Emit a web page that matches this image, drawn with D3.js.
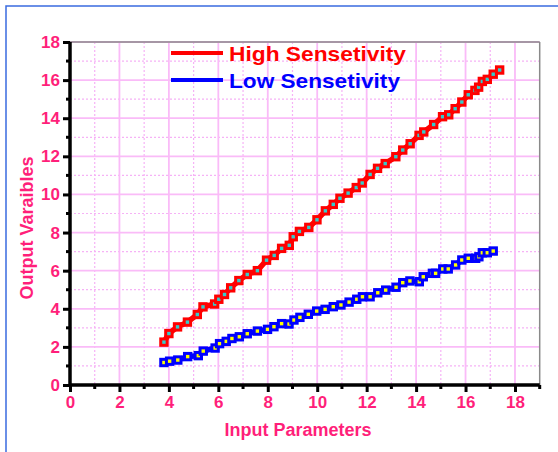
<!DOCTYPE html>
<html><head><meta charset="utf-8">
<script src="https://cdn.jsdelivr.net/npm/d3@7"></script>
<style>html,body{margin:0;padding:0;background:#fff;}svg{display:block;}</style>
</head><body>
<svg id="chart" width="558" height="452"></svg>
<script>
const seriesNames = ["High Sensetivity", "Low Sensetivity"];
const highX = [3.8,4.0,4.35,4.75,5.15,5.38,5.85,6.02,6.25,6.5,6.83,7.17,7.58,7.95,8.26,8.56,8.87,9.03,9.28,9.66,9.99,10.33,10.65,10.92,11.25,11.58,11.82,12.14,12.44,12.75,13.18,13.46,13.76,14.12,14.31,14.71,15.07,15.32,15.58,15.85,16.11,16.38,16.53,16.68,16.88,17.12,17.38];
const highY = [2.25,2.7,3.05,3.3,3.7,4.1,4.25,4.5,4.75,5.1,5.48,5.8,6.0,6.55,6.8,7.17,7.33,7.78,8.06,8.27,8.67,9.14,9.48,9.8,10.07,10.36,10.6,11.05,11.37,11.62,11.98,12.33,12.66,13.1,13.28,13.67,14.08,14.18,14.5,14.85,15.23,15.46,15.63,15.93,16.04,16.31,16.53];
const lowX = [3.8,4.03,4.36,4.76,5.19,5.39,5.87,6.05,6.32,6.55,6.85,7.17,7.58,7.99,8.25,8.56,8.86,9.06,9.3,9.64,9.98,10.32,10.65,10.96,11.29,11.6,11.83,12.14,12.45,12.77,13.19,13.46,13.75,14.13,14.29,14.66,14.79,15.08,15.3,15.6,15.85,16.11,16.41,16.54,16.68,16.88,17.12];
const lowY = [1.18,1.25,1.31,1.49,1.54,1.78,1.94,2.17,2.29,2.44,2.53,2.69,2.83,2.92,3.06,3.22,3.2,3.41,3.55,3.71,3.88,3.97,4.11,4.2,4.35,4.5,4.63,4.63,4.84,4.98,5.13,5.37,5.46,5.42,5.68,5.86,5.86,6.09,6.09,6.3,6.56,6.65,6.65,6.73,6.94,6.94,7.03];
const xTicks = [0,2,4,6,8,10,12,14,16,18];
const yTicks = [0,2,4,6,8,10,12,14,16,18];
const xTitle = "Input Parameters";
const yTitle = "Output Varaibles";

const pink = "#ff1f7a";
const svg = d3.select("#chart");
const font = "'Liberation Sans', Arial, sans-serif";

// outer frame
svg.append("rect").attr("x",6).attr("y",6).attr("width",570).attr("height",470)
  .attr("fill","none").attr("stroke","#3a6be0").attr("stroke-width",1.5);

const x = d3.scaleLinear().domain([0,19]).range([70,539.7]);
const y = d3.scaleLinear().domain([0,18]).range([385,42]);

const minorX = d3.range(1,19,2);
const minorY = d3.range(1,18,2);
const g = svg.append("g");
// minor grid dotted
g.selectAll(".mgx").data(minorX).join("line")
  .attr("x1",d=>x(d)).attr("x2",d=>x(d)).attr("y1",y(18)).attr("y2",y(0))
  .attr("stroke","#f6b2f6").attr("stroke-width",1.2).attr("stroke-dasharray","2,2");
g.selectAll(".mgy").data(minorY).join("line")
  .attr("y1",d=>y(d)).attr("y2",d=>y(d)).attr("x1",x(0)).attr("x2",x(19))
  .attr("stroke","#f6b2f6").attr("stroke-width",1.2).attr("stroke-dasharray","2,2");
// major grid
g.selectAll(".Mgx").data(xTicks.filter(d=>d>0)).join("line")
  .attr("x1",d=>x(d)).attr("x2",d=>x(d)).attr("y1",y(18)).attr("y2",y(0))
  .attr("stroke","#fabbf8").attr("stroke-width",1.8);
g.selectAll(".Mgy").data(yTicks.filter(d=>d>0)).join("line")
  .attr("y1",d=>y(d)).attr("y2",d=>y(d)).attr("x1",x(0)).attr("x2",x(19))
  .attr("stroke","#fabbf8").attr("stroke-width",1.8);

// top & right frame
svg.append("line").attr("x1",x(0)).attr("x2",x(19)).attr("y1",y(18)).attr("y2",y(18)).attr("stroke","#8a8a8a").attr("stroke-width",1.5);
svg.append("line").attr("x1",x(19)).attr("x2",x(19)).attr("y1",y(18)).attr("y2",y(0)).attr("stroke","#8a8a8a").attr("stroke-width",1.5);

// series
const hi = highX.map((v,i)=>[v,highY[i]]);
const lo = lowX.map((v,i)=>[v,lowY[i]]);
const line = d3.line().x(d=>x(d[0])).y(d=>y(d[1]));
function drawSeries(data, col, fill){
  svg.append("path").datum(data).attr("d",line).attr("fill","none")
    .attr("stroke",col).attr("stroke-width",5.5).attr("stroke-linejoin","round");
  svg.append("g").selectAll("rect").data(data).join("rect")
    .attr("x",d=>x(d[0])-3.2).attr("y",d=>y(d[1])-3.2).attr("width",6.4).attr("height",6.4)
    .attr("fill",fill).attr("stroke",col).attr("stroke-width",3);
}
drawSeries(hi,"#ff0000","#33cccc");
drawSeries(lo,"#0000ff","#ffff00");

// axes
const xAxis = d3.axisBottom(x).tickValues(xTicks).tickSize(7).tickPadding(4).tickFormat(d3.format("d"));
const yAxis = d3.axisLeft(y).tickValues(yTicks).tickSize(7).tickPadding(3).tickFormat(d3.format("d"));
const gx = svg.append("g").attr("transform",`translate(0,${y(0)})`).call(xAxis);
const gy = svg.append("g").attr("transform",`translate(${x(0)},0)`).call(yAxis);
// minor ticks
gx.selectAll(".minor").data(minorX.concat([19])).join("line").attr("class","minor")
  .attr("x1",d=>x(d)).attr("x2",d=>x(d)).attr("y1",0).attr("y2",4).attr("stroke","#000").attr("stroke-width",3);
gy.selectAll(".minor").data(minorY).join("line").attr("class","minor")
  .attr("y1",d=>y(d)).attr("y2",d=>y(d)).attr("x1",0).attr("x2",-4).attr("stroke","#000").attr("stroke-width",3);
[gx,gy].forEach(a=>{
  a.select(".domain").attr("stroke","#000").attr("stroke-width",3.5);
  a.selectAll(".tick line").attr("stroke","#000").attr("stroke-width",3);
  a.selectAll(".tick text").attr("fill",pink).attr("font-family",font).attr("font-weight","bold").attr("font-size","17px");
});
gx.select(".domain").attr("d",`M${x(0)},0H${x(19)}`);
gy.select(".domain").attr("d",`M0,${y(0)}V${y(18)}`);

// titles
svg.append("text").attr("x",298).attr("y",436).attr("text-anchor","middle")
  .attr("fill",pink).attr("font-family",font).attr("font-weight","bold").attr("font-size","18px").text(xTitle);
svg.append("text").attr("transform","translate(33,228) rotate(-90)").attr("text-anchor","middle")
  .attr("fill",pink).attr("font-family",font).attr("font-weight","bold").attr("font-size","18px").text(yTitle);

// legend
const legCols = ["#ff0000","#0000ff"];
const legY = [53,80];
seriesNames.forEach((n,i)=>{
  svg.append("line").attr("x1",171).attr("x2",223).attr("y1",legY[i]).attr("y2",legY[i])
    .attr("stroke",legCols[i]).attr("stroke-width",4);
  svg.append("text").attr("x",229).attr("y",legY[i]+8).attr("fill",legCols[i])
    .attr("font-family",font).attr("font-weight","bold").attr("font-size","21px")
    .attr("textLength", i===0?177:171).attr("lengthAdjust","spacingAndGlyphs").text(n);
});
</script>
</body></html>
